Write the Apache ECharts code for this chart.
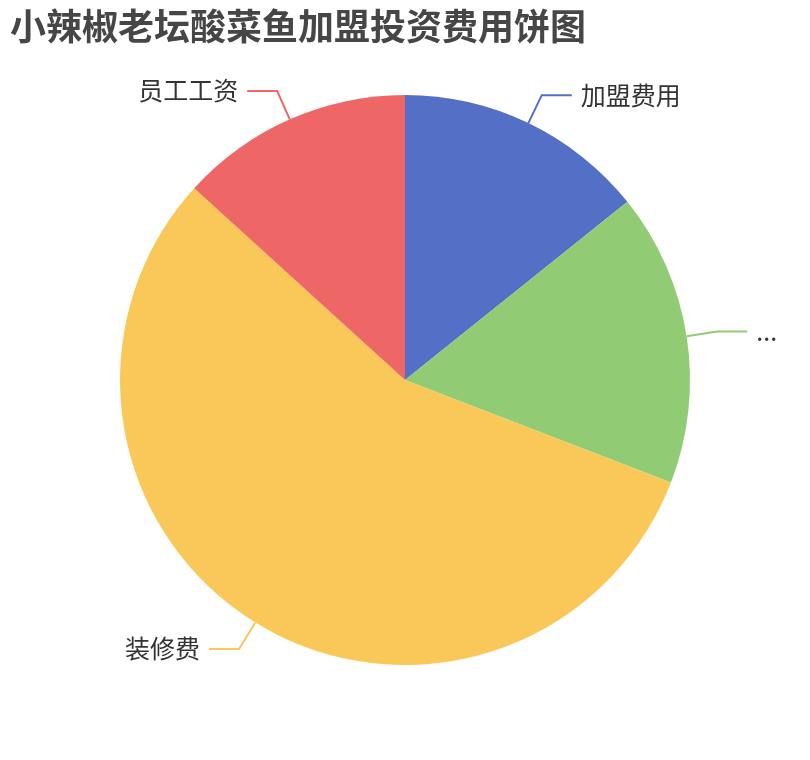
<!DOCTYPE html>
<html>
<head>
<meta charset="utf-8">
<script src="https://cdn.jsdelivr.net/npm/echarts@6/dist/echarts.min.js"></script>
<style>html,body{margin:0;padding:0;background:#fff}#c{width:810px;height:760px}</style>
</head>
<body>
<div id="c"></div>
<script>
var titleText = '小辣椒老坛酸菜鱼加盟投资费用饼图';
var categories = ['加盟费用', '店面租金及其他费用', '装修费', '员工工资'];
var values = [14.25, 16.6, 55.9, 13.25];
var colors = ['#5470c6', '#91cc75', '#fac858', '#ee6666'];

var chart = echarts.init(document.getElementById('c'));
chart.setOption({
  animation: false,
  color: colors,
  title: {
    text: titleText,
    left: 5,
    top: 3,
    textStyle: { fontSize: 36, fontWeight: 'bold', color: '#464646', fontFamily: 'Noto Sans CJK SC' }
  },
  series: [{
    type: 'pie',
    radius: '75%',
    center: ['50%', '50%'],
    data: categories.map(function (n, i) { return { name: n, value: values[i] }; }),
    label: { fontSize: 25, color: '#333', fontFamily: 'Noto Sans CJK SC', distanceToLabelLine: 9 },
    labelLine: { length: 31, length2: 30, lineStyle: { width: 2 } }
  }]
});
</script>
</body>
</html>
